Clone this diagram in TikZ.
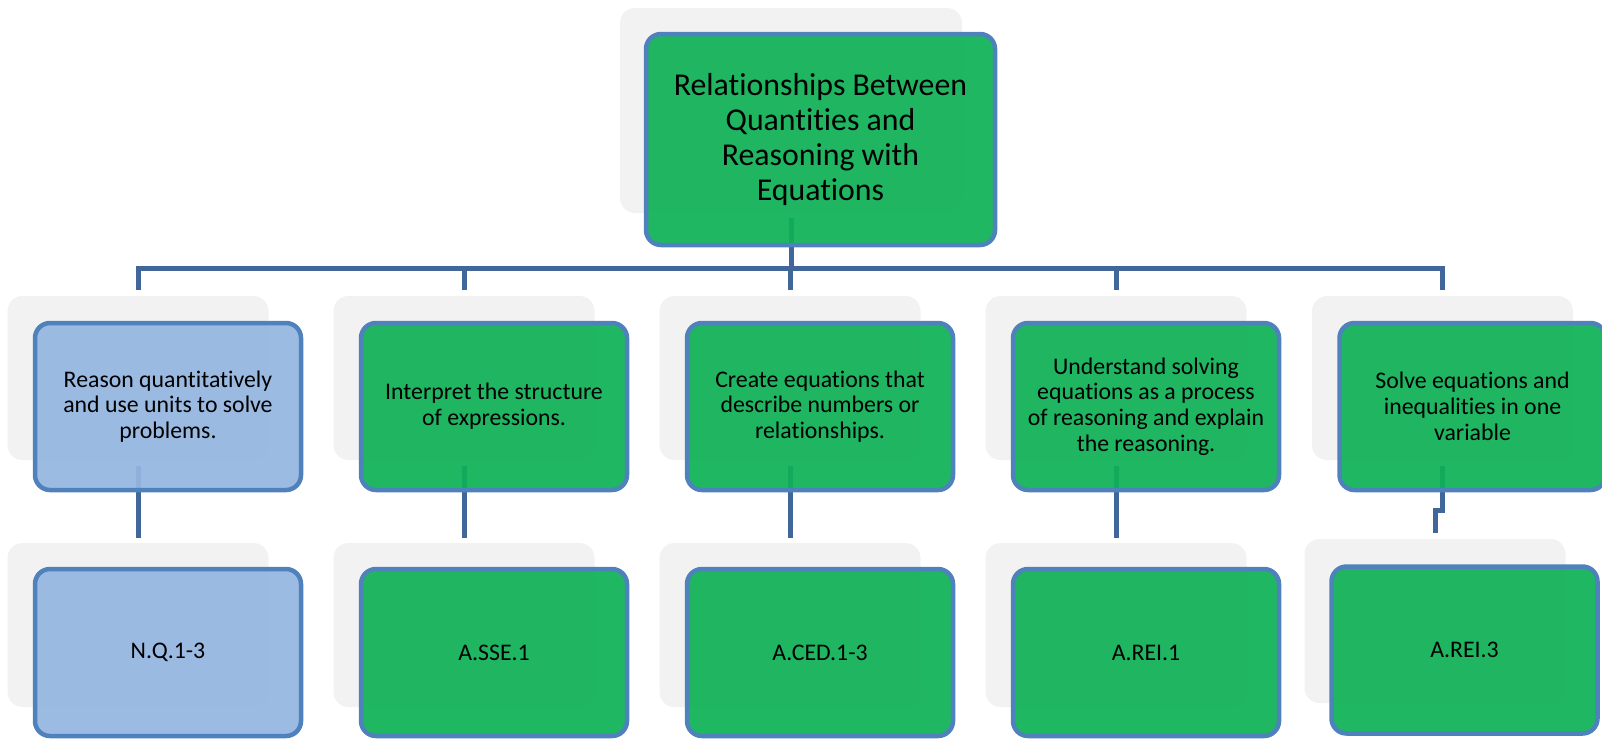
\documentclass[tikz,border=0pt]{standalone}
\usepackage{fontspec}
\setmainfont{Carlito}[Ligatures=NoCommon]
\definecolor{boxgreen}{HTML}{0FB157}
\definecolor{boxblue}{HTML}{94B6E1}
\definecolor{boxedge}{HTML}{4F81BD}
\definecolor{linkblue}{HTML}{41679A}
\definecolor{backgray}{HTML}{F2F2F2}

\begin{document}
\begin{tikzpicture}[x=1pt,y=-1pt,
        back/.style={fill=backgray, rounded corners=15pt, inner sep=0pt,
            minimum width=261pt, minimum height=164pt},
        card/.style={draw=boxedge, line width=4.5pt, rounded corners=15pt,
            fill opacity=0.93, text opacity=1, inner sep=0pt, align=center,
            minimum width=266pt, minimum height=167pt,
            font=\fontsize{23.8}{25.8}\selectfont},
        grncard/.style={card, fill=boxgreen},
        bluecard/.style={card, fill=boxblue},
        link/.style={draw=linkblue, line width=5pt}]
        \useasboundingbox (0,0) rectangle (1602,739);

        % grey backs
        \node[back, minimum width=342pt, minimum height=205pt] (s0) at (791,110.5) {};

        \node[back] (s1) at (138,378) {};
        \node[back] (s2) at (464,378) {};
        \node[back] (s3) at (790,378) {};
        \node[back] (s4) at (1116,378) {};
        \node[back] (s5) at (1442.5,378) {};

        \node[back] (t1) at (138,625) {};
        \node[back] (t2) at (464,625) {};
        \node[back] (t3) at (790,625) {};
        \node[back] (t4) at (1116,625) {};
        \node[back] (t5) at (1435,621) {};

        % links
        \coordinate (bar) at (0,268);
        \draw[link] ([yshift=-5pt]s0.south) -- (s0.south |- bar);
        \draw[link] ([yshift=6pt]s1.north) |- (s3.north |- bar) -| ([yshift=6pt]s5.north);
        \draw[link] (s2.north |- bar) -- ([yshift=6pt]s2.north);
        \draw[link] (s3.north |- bar) -- ([yshift=6pt]s3.north);
        \draw[link] (s4.north |- bar) -- ([yshift=6pt]s4.north);

        \draw[link] ([yshift=-6pt]s1.south) -- ([yshift=5pt]t1.north);
        \draw[link] ([yshift=-6pt]s2.south) -- ([yshift=5pt]t2.north);
        \draw[link] ([yshift=-6pt]s3.south) -- ([yshift=5pt]t3.north);
        \draw[link] ([yshift=-6pt]s4.south) -- ([yshift=5pt]t4.north);
        \draw[link] ([yshift=-6pt]s5.south) -- ++(0,44) -| ([yshift=6pt]t5.north);

        % boxes
        \node[grncard, minimum width=349pt, minimum height=211pt,
            font=\fontsize{31.8}{34.7}\selectfont] (c0) at ([shift={(29.5,29)}]s0)
            {Relationships Between\\Quantities and\\Reasoning with\\Equations};

        \node[bluecard] (c1) at ([shift={(30,28.5)}]s1)
            {Reason quantitatively\\and use units to solve\\problems.};
        \node[grncard] (c2) at ([shift={(30,28.5)}]s2)
            {Interpret the structure\\of expressions.};
        \node[grncard] (c3) at ([shift={(30,28.5)}]s3)
            {Create equations that\\describe numbers or\\relationships.};
        \node[grncard] (c4) at ([shift={(30,28.5)}]s4)
            {Understand solving\\equations as a process\\of reasoning and explain\\the reasoning.};
        \node[grncard] (c5) at ([shift={(30,28.5)}]s5)
            {Solve equations and\\inequalities in one\\variable};

        \node[bluecard] (d1) at ([shift={(30,27.5)}]t1) {N.Q.1-3};
        \node[grncard] (d2) at ([shift={(30,27.5)}]t2) {A.SSE.1};
        \node[grncard] (d3) at ([shift={(30,27.5)}]t3) {A.CED.1-3};
        \node[grncard] (d4) at ([shift={(30,27.5)}]t4) {A.REI.1};
        \node[grncard] (d5) at ([shift={(29.5,29)}]t5) {A.REI.3};
    \end{tikzpicture}
\end{document}
